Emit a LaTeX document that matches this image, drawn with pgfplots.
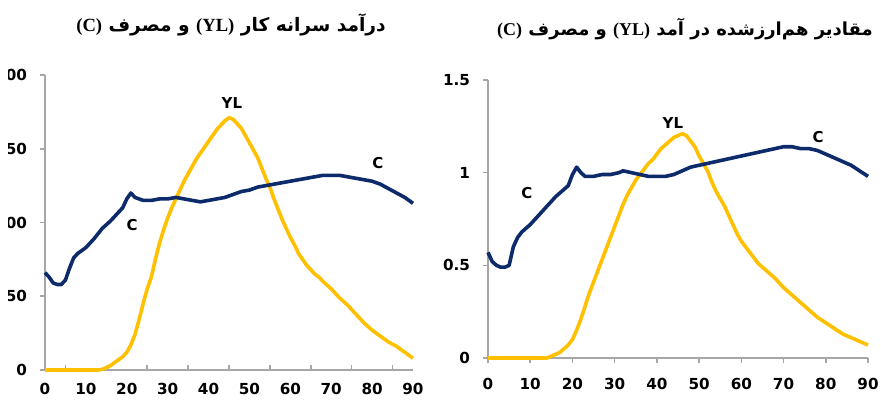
\documentclass[border=0pt]{standalone}
\usepackage{fontspec}
\usepackage{pgfplots}
\pgfplotsset{compat=1.18}
\setmainfont{DejaVu Sans}
\newfontfamily\arabicfont[Script=Arabic]{DejaVu Sans}
\newfontfamily\latinserif{Liberation Serif}
\TeXXeTstate=1

\definecolor{cblue}{HTML}{0D2A6B}
\definecolor{ylgold}{HTML}{FFC000}
\definecolor{axisgray}{HTML}{A6A6A6}

\tikzset{curvelabel/.style={font=\bfseries\fontsize{7.5}{9}\selectfont}}

\pgfplotsset{
  panel/.style={
    scale only axis,
    axis lines*=left,
    axis line style={draw=axisgray, line width=0.8pt},
    tick style={draw=axisgray, line width=0.8pt},
    xmin=0, xmax=90,
    xtick={0,10,...,90},
    tick label style={font=\bfseries\fontsize{7.6}{9}\selectfont, text=black},
    /pgf/number format/assume math mode=true,
    clip=false,
    every axis plot/.append style={line width=1.8pt, no markers, line join=round},
  },
}

\begin{document}
\begin{tikzpicture}

% left panel
\begin{axis}[panel,
    at={(22.5pt,17pt)}, anchor=south west,
    width=184pt, height=147.5pt,
    ymin=0, ymax=200, ytick={0,50,100,150,200},
    major x tick style={draw=none},
    minor xtick={5,15,...,85}, minor tick length=2.5pt, major tick length=2.5pt,
    xtick align=inside, ytick align=outside,
    xticklabel style={yshift=-3pt},
    yticklabel style={xshift=-3pt},
]
\addplot[ylgold] coordinates {(0,0) (13,0) (14,0.5) (15,1.5) (16,3) (17,5) (18,7) (19,9) (20,12) (21,17) (22,24) (23,34) (24,45) (25,55) (26,63) (27,75) (28,86) (29,95) (30,103) (31,110) (32,116) (33,122) (34,128) (35,133) (36,138) (37,143) (38,147) (39,151) (40,155) (41,159) (42,163) (43,166) (44,169) (45,171) (46,170) (47,167) (48,164) (49,159) (50,154) (51,149) (52,144) (53,137) (54,130) (55,124) (56,116) (57,109) (58,102) (59,96) (60,90) (61,85) (62,79) (63,75) (64,71) (65,68) (66,65) (67,63) (68,60) (70,55) (72,49) (74,44) (76,38) (78,32) (80,27) (82,23) (84,19) (86,16) (88,12) (90,8)};
\addplot[cblue] coordinates {(0,66) (1,63) (2,59) (3,58) (4,58) (5,61) (6,69) (7,76) (8,79) (10,83) (12,89) (14,96) (16,101) (18,107) (19,110) (20,116) (21,120) (22,117) (24,115) (26,115) (28,116) (30,116) (32,117) (34,116) (36,115) (38,114) (40,115) (42,116) (44,117) (46,119) (48,121) (50,122) (52,124) (54,125) (56,126) (58,127) (60,128) (62,129) (64,130) (66,131) (68,132) (70,132) (72,132) (74,131) (76,130) (78,129) (80,128) (82,126) (84,123) (86,120) (88,117) (90,113)};
\node[curvelabel] at (axis cs:45.7,181) {YL};
\node[curvelabel] at (axis cs:21.3,98) {C};
\node[curvelabel] at (axis cs:81.4,140) {C};
\end{axis}

% right panel
\begin{axis}[panel,
    at={(244pt,23pt)}, anchor=south west,
    width=190pt, height=139pt,
    ymin=0, ymax=1.5, ytick={0,0.5,1,1.5}, yticklabels={0,0.5,1,1.5},
    tick align=outside, major tick length=2.5pt,
    xticklabel style={yshift=-4pt},
    yticklabel style={xshift=-3pt},
]
\addplot[ylgold] coordinates {(0,0) (14,0) (15,0.01) (16,0.02) (17,0.03) (18,0.05) (19,0.07) (20,0.10) (21,0.15) (22,0.21) (23,0.28) (24,0.35) (25,0.41) (26,0.47) (27,0.53) (28,0.59) (29,0.65) (30,0.71) (31,0.77) (32,0.83) (33,0.88) (34,0.92) (35,0.96) (36,0.99) (37,1.02) (38,1.05) (39,1.07) (40,1.10) (41,1.13) (42,1.15) (43,1.17) (44,1.19) (45,1.20) (46,1.21) (47,1.20) (48,1.17) (49,1.14) (50,1.09) (51,1.05) (52,1.01) (53,0.95) (54,0.90) (55,0.86) (56,0.82) (57,0.77) (58,0.72) (59,0.67) (60,0.63) (61,0.60) (62,0.57) (63,0.54) (64,0.51) (66,0.47) (68,0.43) (70,0.38) (72,0.34) (74,0.30) (76,0.26) (78,0.22) (80,0.19) (82,0.16) (84,0.13) (86,0.11) (88,0.09) (90,0.07)};
\addplot[cblue] coordinates {(0,0.57) (1,0.52) (2,0.50) (3,0.49) (4,0.49) (5,0.50) (6,0.60) (7,0.65) (8,0.68) (10,0.72) (12,0.77) (14,0.82) (16,0.87) (18,0.91) (19,0.93) (20,0.99) (21,1.03) (22,1.00) (23,0.98) (25,0.98) (27,0.99) (29,0.99) (31,1.00) (32,1.01) (34,1.00) (36,0.99) (38,0.98) (40,0.98) (42,0.98) (44,0.99) (46,1.01) (48,1.03) (50,1.04) (52,1.05) (54,1.06) (56,1.07) (58,1.08) (60,1.09) (62,1.10) (64,1.11) (66,1.12) (68,1.13) (70,1.14) (72,1.14) (74,1.13) (76,1.13) (78,1.12) (80,1.10) (82,1.08) (84,1.06) (86,1.04) (88,1.01) (90,0.98)};
\node[curvelabel] at (axis cs:43.8,1.27) {YL};
\node[curvelabel] at (axis cs:9.2,0.89) {C};
\node[curvelabel] at (axis cs:78.2,1.19) {C};
\end{axis}

% titles
\node[font=\bfseries\fontsize{9.3}{11}\selectfont] at (115.5pt,189.5pt)
  {\arabicfont\beginR درآمد سرانه کار \beginL{\latinserif\bfseries (YL)}\endL{} و مصرف \beginL{\latinserif\bfseries (C)}\endL\endR};
\node[font=\bfseries\fontsize{9}{11}\selectfont] at (342.5pt,187.5pt)
  {\arabicfont\beginR مقادیر هم‌ارزشده در آمد \beginL{\latinserif\bfseries (YL)}\endL{} و مصرف \beginL{\latinserif\bfseries (C)}\endL\endR};

% the source image is cut off at its left edge
\fill[white] (-20pt,-5pt) rectangle (4pt,210pt);

\pgfresetboundingbox
\path[use as bounding box] (0,0) rectangle (440.5pt,202pt);
\end{tikzpicture}
\end{document}
